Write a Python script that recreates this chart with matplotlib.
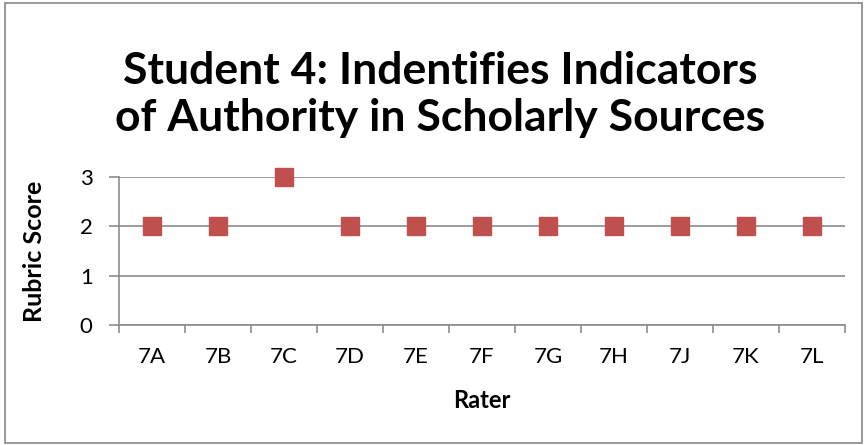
import matplotlib
matplotlib.use("Agg")
import matplotlib.pyplot as plt
from matplotlib.patches import Rectangle

raters = ["7A", "7B", "7C", "7D", "7E", "7F", "7G", "7H", "7J", "7K", "7L"]
scores = [2, 2, 3, 2, 2, 2, 2, 2, 2, 2, 2]
yticks = [0, 1, 2, 3]

plt.rcParams['font.family'] = ['Lato', 'DejaVu Sans']

fig = plt.figure(figsize=(8.66, 4.45), dpi=100)
fig.patches.append(Rectangle((0.006, 0.004), 0.989, 0.99, transform=fig.transFigure,
                             fill=False, edgecolor='#888888', linewidth=1.2))
ax = fig.add_axes([0.1374, 0.2697, 0.8383, 0.3326])

x = list(range(1, len(raters) + 1))
ax.plot(x, scores, linestyle='none', marker='s', markersize=13.5, color='#C0504D',
        clip_on=False, zorder=5)

ax.set_xlim(0.5, len(raters) + 0.5)
ax.set_ylim(0, 3)
ax.set_yticks(yticks)
ax.set_yticklabels([str(v) for v in yticks], fontsize=16)
ax.grid(axis='y', color='#8c8c8c', linewidth=1.2)
ax.set_axisbelow(True)

ax.set_xticks([i + 0.5 for i in range(0, len(raters) + 1)])
ax.set_xticklabels([])
ax.set_xticks(x, minor=True)
ax.set_xticklabels(raters, minor=True, fontsize=16)
ax.tick_params(axis='x', which='minor', length=0, pad=16)
ax.tick_params(axis='x', which='major', length=6, color='#8c8c8c', width=1.2)
ax.tick_params(axis='y', length=7, color='#8c8c8c', width=1.2, pad=12)

for s in ['top', 'right']:
    ax.spines[s].set_visible(False)
for s in ['left', 'bottom']:
    ax.spines[s].set_color('#8c8c8c')
    ax.spines[s].set_linewidth(1.2)

ax.set_xlabel('Rater', fontsize=17, fontweight='bold', labelpad=16)
ax.set_ylabel('Rubric Score', fontsize=18, fontweight='bold', labelpad=24)

fig.text(0.508, 0.788, 'Student 4: Indentifies Indicators\nof Authority in Scholarly Sources',
         ha='center', va='center', fontsize=32, fontweight='bold', linespacing=1.22)

fig.savefig('out.png', dpi=100)
